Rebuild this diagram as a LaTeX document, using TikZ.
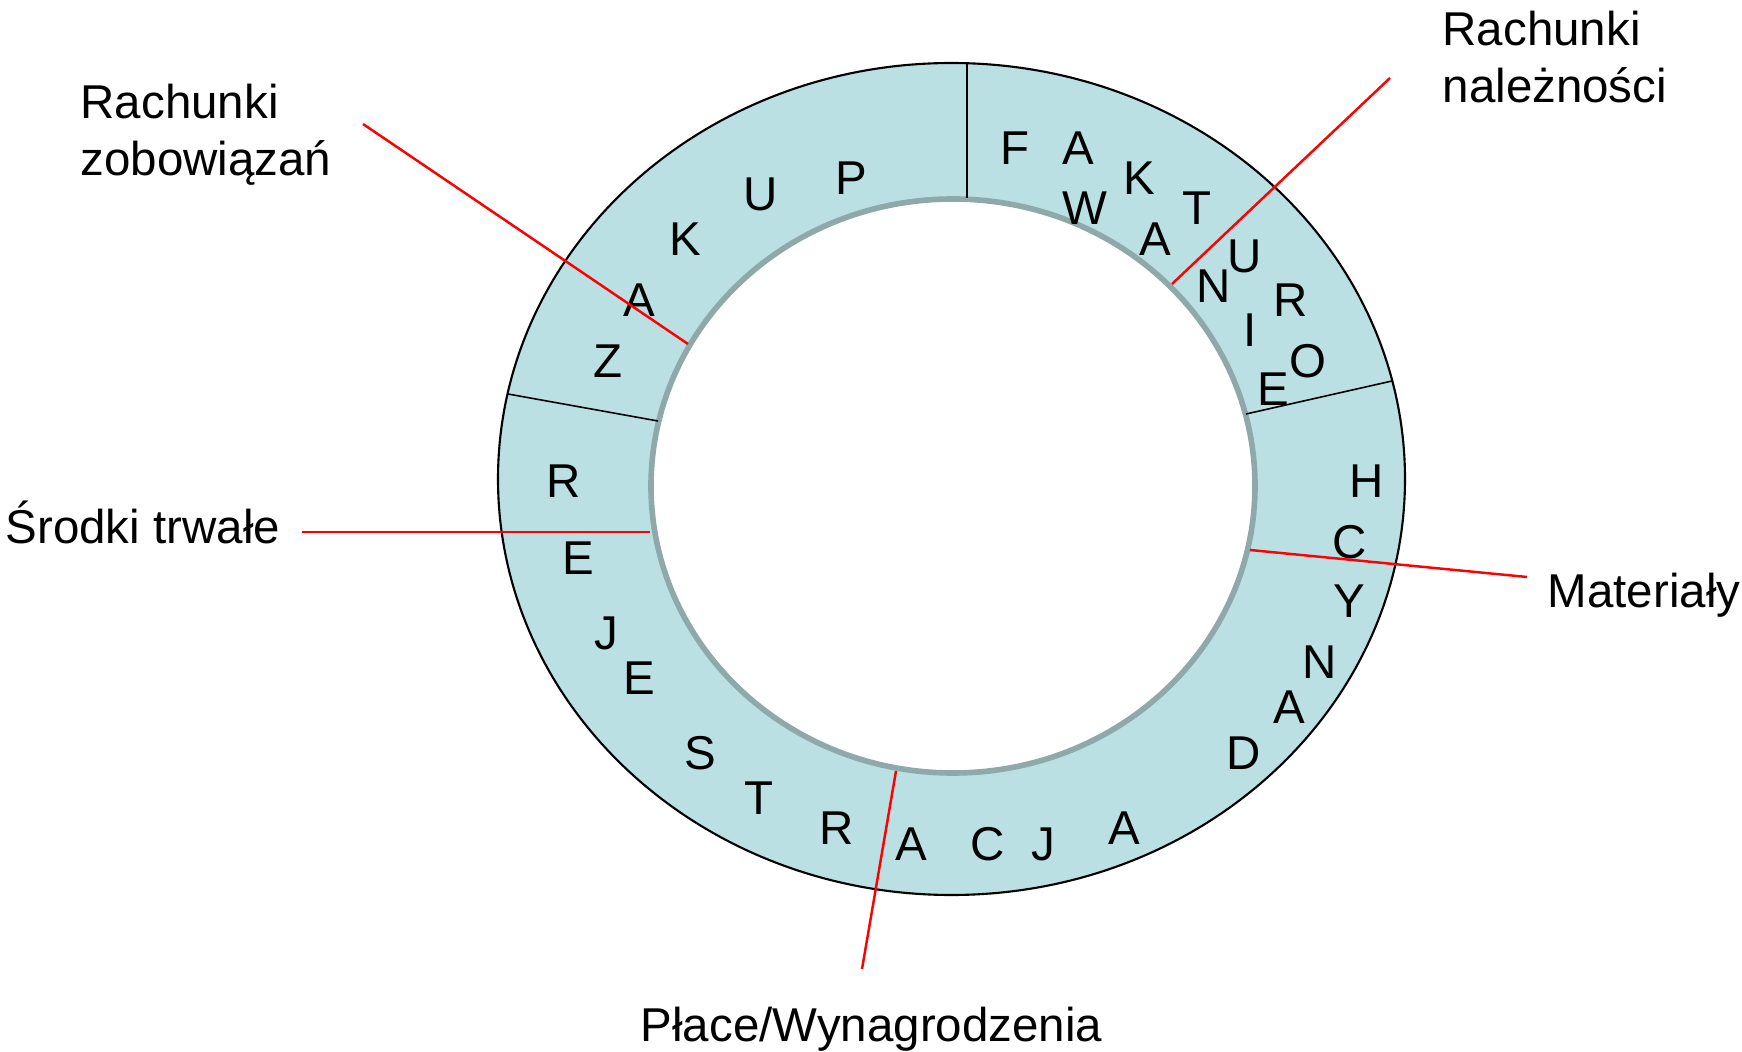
\documentclass[tikz,border=0pt]{standalone}
\usepackage{fontspec}
\setmainfont{Liberation Sans}
\definecolor{pierscien}{HTML}{BBE0E3}
\definecolor{brzeg}{HTML}{8FA9AB}
\tikzset{
  litera/.style={inner sep=0pt,anchor=center,font=\fontsize{13.5pt}{16.2pt}\selectfont},
  opis/.style={inner sep=0pt,align=left,font=\fontsize{13.5pt}{16.2pt}\selectfont},
  linia/.style={red,line width=0.7pt},
  podzial/.style={black,line width=0.45pt}
}

\begin{document}
\begin{tikzpicture}[x=0.01cm,y=-0.01cm]
        \useasboundingbox (0,0) rectangle (1742,1052);

        %%%%%%%% Anello %%%%%%%%%
        \fill[pierscien,even odd rule] (951.5,479) ellipse (453.5 and 416) (953,486) ellipse (302 and 287);
        \draw[line width=0.6pt] (951.5,479) ellipse (453.5 and 416);
        \draw[brzeg,line width=1.6pt] (953,486) ellipse (302 and 287);

        %%%%%%%% Divisori %%%%%%%%
        \draw[podzial] (967,63) -- (967,198);
        \draw[podzial] (508,394) -- (658,421);
        \draw[podzial] (1246,414) -- (1392,381);

        %%%%%%%% Zakup %%%%%%%%%
        \node[litera] (z1) at (608,361) {Z};
        \node[litera] (z2) at (639,300) {A};
        \node[litera] (z3) at (685,239) {K};
        \node[litera] (z4) at (761,194) {U};
        \node[litera] (z5) at (851,178) {P};

        %%%%%%%% Fakturowanie %%%%%%%%%
        \node[litera] (f1) at (1015,148) {F};
        \node[litera] (f2) at (1078,148) {A};
        \node[litera] (f3) at (1139,178) {K};
        \node[litera] (f4) at (1197,208) {T};
        \node[litera] (f5) at (1245,256) {U};
        \node[litera] (f6) at (1291,300) {R};
        \node[litera] (f7) at (1308,361) {O};
        \node[litera] (f8) at (1085,208) {W};
        \node[litera] (f9) at (1155,239) {A};
        \node[litera] (f10) at (1214,286) {N};
        \node[litera] (f11) at (1250,330) {I};
        \node[litera] (f12) at (1273,389) {E};

        %%%%%%%% Rejestracja danych %%%%%%%%%
        \node[litera] (r1) at (564,481) {R};
        \node[litera] (r2) at (578,558) {E};
        \node[litera] (r3) at (606,633) {J};
        \node[litera] (r4) at (639,678) {E};
        \node[litera] (r5) at (700,753) {S};
        \node[litera] (r6) at (759,798) {T};
        \node[litera] (r7) at (837,828) {R};
        \node[litera] (r8) at (911,844) {A};
        \node[litera] (r9) at (988,844) {C};
        \node[litera] (r10) at (1043,844) {J};
        \node[litera] (r11) at (1124,828) {A};
        \node[litera] (d1) at (1244,753) {D};
        \node[litera] (d2) at (1289,707) {A};
        \node[litera] (d3) at (1320,662) {N};
        \node[litera] (d4) at (1349,601) {Y};
        \node[litera] (d5) at (1350,542) {C};
        \node[litera] (d6) at (1367,481) {H};

        %%%%%%%% Etichette %%%%%%%%%
        \node[opis,anchor=north west] (zobow) at (80,83) {Rachunki\\zobowiązań};
        \node[opis,anchor=north west] (nalez) at (1442,10) {Rachunki\\należności};
        \node[opis,anchor=base west] (srodki) at (5,544) {Środki trwałe};
        \node[opis,anchor=base west] (mater) at (1547,607) {Materiały};
        \node[opis,anchor=base west] (place) at (640,1041) {Płace/Wynagrodzenia};

        %%%%%%%% Linee %%%%%%%%
        \coordinate (zobowA) at (363,124);
        \coordinate (zobowB) at (688,344);
        \coordinate (nalezA) at (1390,78);
        \coordinate (nalezB) at (1172,284);
        \coordinate (srodkiA) at (302,532);
        \coordinate (srodkiB) at (650,532);
        \coordinate (materA) at (1527,577);
        \coordinate (materB) at (1250,550);
        \coordinate (placeA) at (862,969);
        \coordinate (placeB) at (896,771);
        \draw[linia] (zobowA) -- (zobowB);
        \draw[linia] (nalezA) -- (nalezB);
        \draw[linia] (srodkiA) -- (srodkiB);
        \draw[linia] (materA) -- (materB);
        \draw[linia] (placeA) -- (placeB);
    \end{tikzpicture}
\end{document}
